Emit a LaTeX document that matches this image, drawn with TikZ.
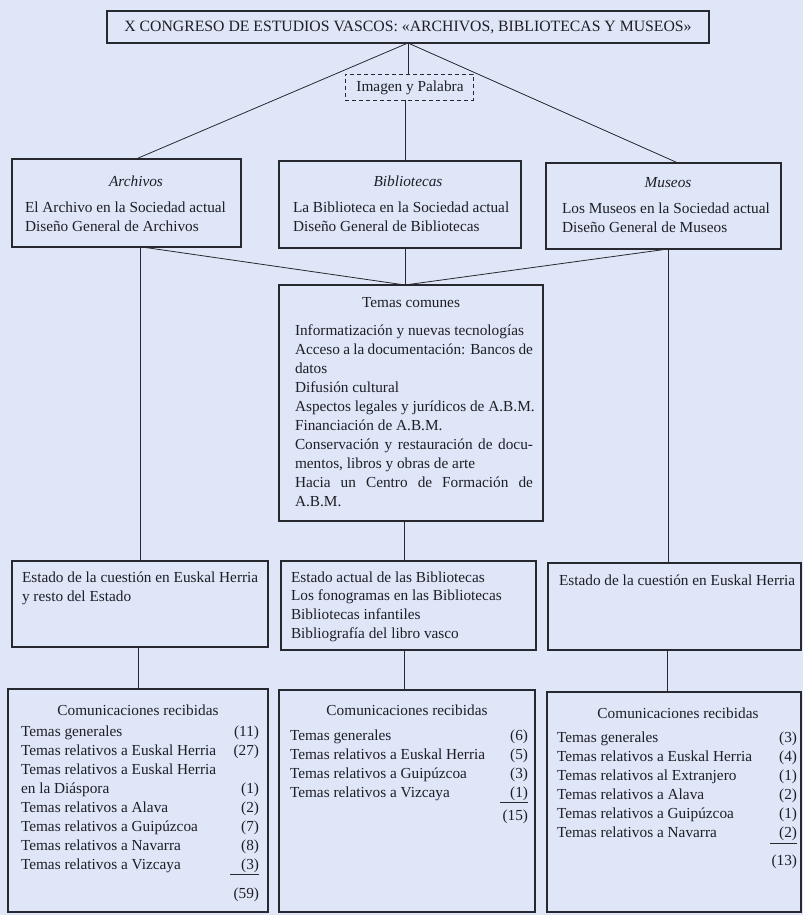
\documentclass[tikz,border=0pt]{standalone}
\usepackage{fontspec}
\setmainfont{Liberation Serif}
\definecolor{bg}{RGB}{222,230,247}
\definecolor{lc}{RGB}{40,40,48}
\definecolor{tc}{RGB}{30,30,38}
\newcommand\fs{\fontsize{15.3}{19}\selectfont}
\newcommand\boxat[6][]{%
  \pgfmathsetmacro\bw{#5-#3}\pgfmathsetmacro\bh{#6-#4}%
  \node[box,#1,minimum width=\bw pt,minimum height=\bh pt] (#2) at ({(#3+#5)/2},{(#4+#6)/2}) {};}
\begin{document}
\begin{tikzpicture}[x=1pt,y=-1pt,
  box/.style={draw=lc,line width=1.1pt,rectangle,inner sep=0pt,outer sep=0pt},
  conn/.style={draw=lc,line width=0.8pt},
  txt/.style={inner sep=0pt,outer sep=0pt,text=tc,font=\fs},
  lt/.style={txt,anchor=base west},
  rt/.style={txt,anchor=base east},
  ct/.style={txt,anchor=base},
  ul/.style={draw=lc,line width=0.7pt}]
\fill[bg] (0,0) rectangle (803,915);
\useasboundingbox (0,0) rectangle (803,915);
% boxes
\boxat{title}{107}{11}{709}{43}
\boxat[dash pattern=on 4pt off 3pt,line width=0.9pt]{imagen}{345}{74}{473}{100}
\boxat{arch}{12}{159}{241}{247}
\boxat{bib}{279}{161}{521}{248}
\boxat{mus}{546}{163}{781}{249}
\boxat{temas}{279}{285}{543}{521}
\boxat{est1}{12}{561}{268}{647}
\boxat{est2}{281}{561}{536}{650}
\boxat{est3}{548}{563}{801}{650}
\boxat{com1}{8}{689}{268}{912}
\boxat{com2}{279}{690}{535}{912}
\boxat{com3}{547}{692}{801}{912}
% connectors
\draw[conn] (title.south) -- ([xshift=9.5pt]arch.north);
\draw[conn] (title.south) -- ([xshift=14.5pt]mus.north);
\draw[conn] (title.south) -- (title.south |- imagen.north);
\draw[conn] ([xshift=-4pt]imagen.south) -- ([xshift=5pt]bib.north);
\draw[conn] ([xshift=15.5pt]arch.south) -- ([xshift=-6pt]temas.north);
\draw[conn] ([xshift=5pt]bib.south) -- ([xshift=-6pt]temas.north);
\draw[conn] ([xshift=4.5pt]mus.south) -- ([xshift=-6pt]temas.north);
\draw[conn] (est1.north |- arch.south) -- (est1.north);
\draw[conn] ([xshift=-6.5pt]est3.north |- mus.south) -- ([xshift=-6.5pt]est3.north);
\draw[conn] ([xshift=-7pt]temas.south) -- ([xshift=-7pt]temas.south |- est2.north);
\draw[conn] ([xshift=-2pt]est1.south) -- ([xshift=-2pt]est1.south |- com1.north);
\draw[conn] ([xshift=-4.5pt]est2.south) -- ([xshift=-4.5pt]est2.south |- com2.north);
\draw[conn] ([xshift=-7pt]est3.south) -- ([xshift=-7pt]est3.south |- com3.north);
% texts
\node[ct,font=\fontsize{15.75}{19}\selectfont] (ttitle) at (408,32) {X CONGRESO DE ESTUDIOS VASCOS: «ARCHIVOS, BIBLIOTECAS Y MUSEOS»};
\node[ct] (timagen) at (410,92) {Imagen y Palabra};
\node[ct,font=\fs\itshape] (tarch) at (136,186) {Archivos};
\node[lt] (tarch1) at (25,212) {El Archivo en la Sociedad actual};
\node[lt] (tarch2) at (25,231) {Diseño General de Archivos};
\node[ct,font=\fs\itshape] (tbib) at (408,186) {Bibliotecas};
\node[lt] (tbib1) at (293,212) {La Biblioteca en la Sociedad actual};
\node[lt] (tbib2) at (293,231) {Diseño General de Bibliotecas};
\node[ct,font=\fs\itshape] (tmus) at (668,187) {Museos};
\node[lt] (tmus1) at (562,213) {Los Museos en la Sociedad actual};
\node[lt] (tmus2) at (562,232) {Diseño General de Museos};
\node[ct] (ttem) at (411,307) {Temas comunes};
\foreach \t [count=\i from 0] in {%
  {Informatización y nuevas tecnologías},
  {\makebox[238pt][s]{Acceso a la documentación: Bancos de}},
  {datos},
  {Difusión cultural},
  {Aspectos legales y jurídicos de A.B.M.},
  {Financiación de A.B.M.},
  {\makebox[238pt][s]{Conservación y restauración de docu-}},
  {mentos, libros y obras de arte},
  {\makebox[238pt][s]{Hacia un Centro de Formación de}},
  {A.B.M.}}
  \node[lt] (ttem\i) at (295,{335+19*\i}) {\t};
\node[lt] (te1a) at (22,582) {Estado de la cuestión en Euskal Herria};
\node[lt] (te1b) at (22,601) {y resto del Estado};
\foreach \t [count=\i from 0] in {%
  {Estado actual de las Bibliotecas},
  {Los fonogramas en las Bibliotecas},
  {Bibliotecas infantiles},
  {Bibliografía del libro vasco}}
  \node[lt] (te2\i) at (291,{582+18.7*\i}) {\t};
\node[lt] (te3a) at (559,585) {Estado de la cuestión en Euskal Herria};
% comunicaciones 1
\node[ct] (tc1) at (138,715) {Comunicaciones recibidas};
\foreach \t/\n [count=\i from 0] in {%
  Temas generales/(11),
  Temas relativos a Euskal Herria/(27),
  Temas relativos a Euskal Herria/,
  en la Diáspora/(1),
  Temas relativos a Alava/(2),
  Temas relativos a Guipúzcoa/(7),
  Temas relativos a Navarra/(8),
  Temas relativos a Vizcaya/(3)}{
  \node[lt] (tc1l\i) at (21,{736+19*\i}) {\t};
  \node[rt] (tc1n\i) at (259,{736+19*\i}) {\n};}
\draw[ul] (230,874) -- (259,874);
\node[rt] (tc1s) at (259,898) {(59)};
% comunicaciones 2
\node[ct] (tc2) at (407,715) {Comunicaciones recibidas};
\foreach \t/\n [count=\i from 0] in {%
  Temas generales/(6),
  Temas relativos a Euskal Herria/(5),
  Temas relativos a Guipúzcoa/(3),
  Temas relativos a Vizcaya/(1)}{
  \node[lt] (tc2l\i) at (290,{740+19*\i}) {\t};
  \node[rt] (tc2n\i) at (528,{740+19*\i}) {\n};}
\draw[ul] (500,802) -- (528,802);
\node[rt] (tc2s) at (528,820) {(15)};
% comunicaciones 3
\node[ct] (tc3) at (678,718) {Comunicaciones recibidas};
\foreach \t/\n [count=\i from 0] in {%
  Temas generales/(3),
  Temas relativos a Euskal Herria/(4),
  Temas relativos al Extranjero/(1),
  Temas relativos a Alava/(2),
  Temas relativos a Guipúzcoa/(1),
  Temas relativos a Navarra/(2)}{
  \node[lt] (tc3l\i) at (557,{742+19*\i}) {\t};
  \node[rt] (tc3n\i) at (797,{742+19*\i}) {\n};}
\draw[ul] (770,843) -- (797,843);
\node[rt] (tc3s) at (797,865) {(13)};
\end{tikzpicture}
\end{document}
